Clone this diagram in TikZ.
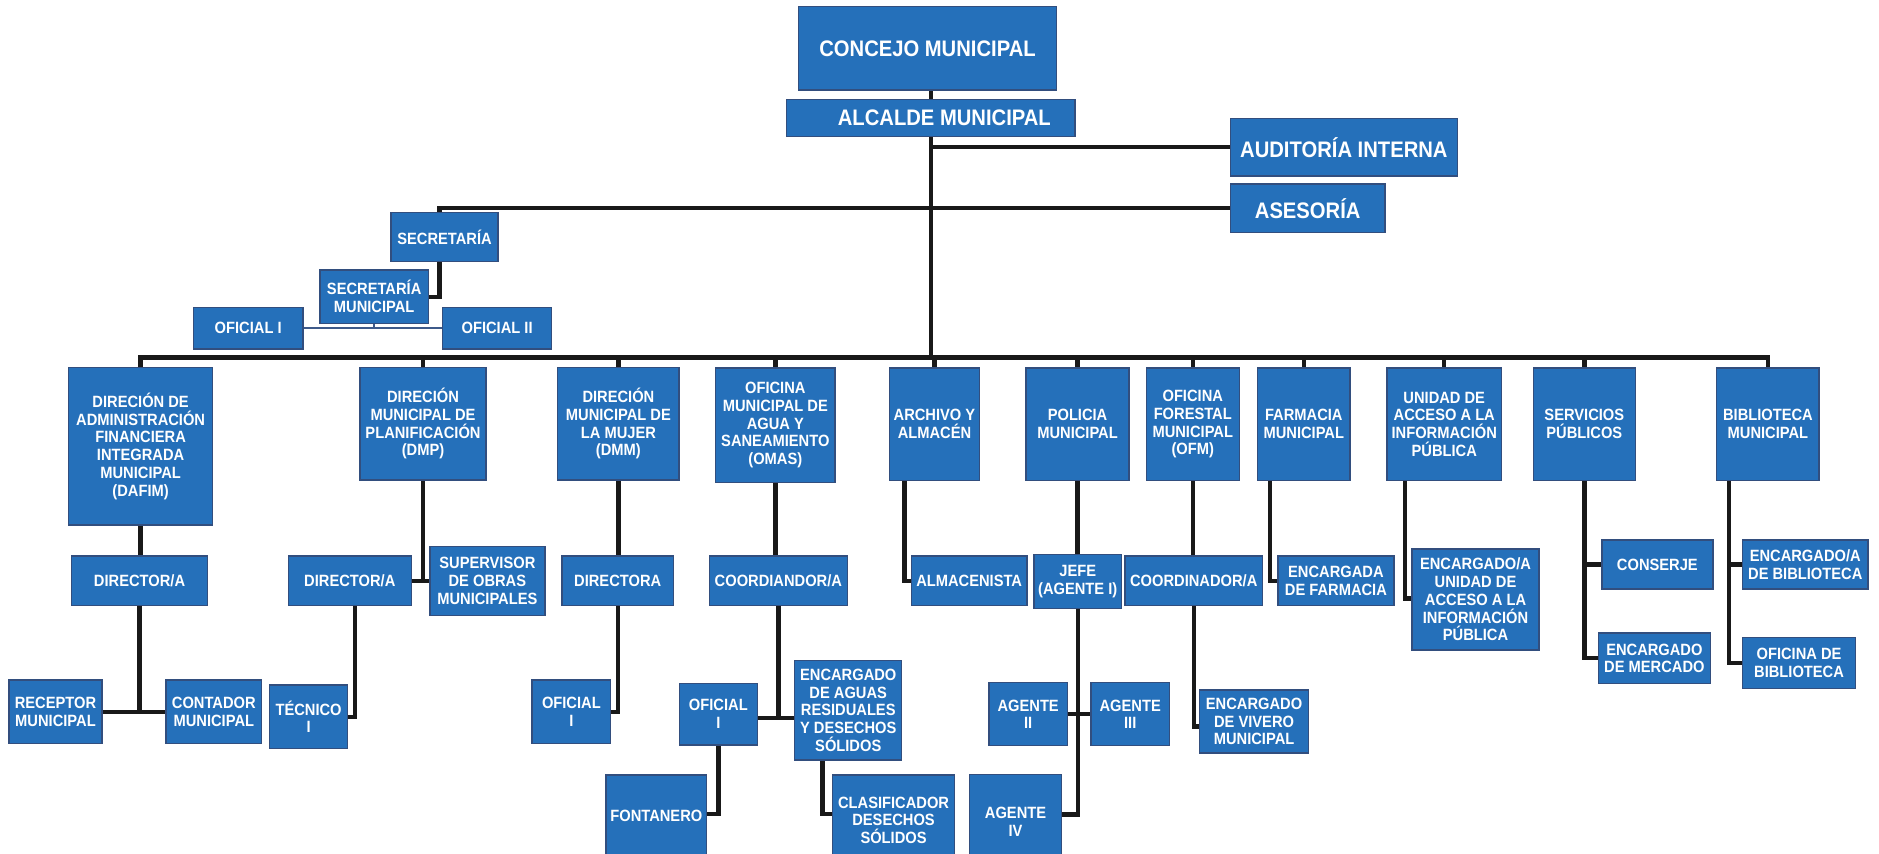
\documentclass[tikz,border=0pt]{standalone}
\usepackage{fontspec}
\newfontfamily\orgfont[FakeStretch=0.9]{Liberation Sans}
\usepackage{tikz}
\usetikzlibrary{calc}
\definecolor{azul}{RGB}{37,112,186}
\definecolor{borde}{RGB}{50,78,126}
\definecolor{enlace}{RGB}{62,90,138}
\pgfdeclarelayer{background}
\pgfsetlayers{background,main}

\tikzset{
  caja/.style={draw=borde, line width=0.8pt, fill=azul, text=white, align=center, inner sep=0pt,
    font=\orgfont\bfseries\fontsize{9.3}{10.1}\selectfont},
  cajagrande/.style={caja, font=\orgfont\bfseries\fontsize{12.8}{14}\selectfont},
  tam/.style 2 args={minimum width=#1*0.024cm, minimum height=#2*0.024cm},
  linea/.style={line width=2.5pt, draw=black!90},
}

\begin{document}
\begin{tikzpicture}[x=0.024cm, y=-0.024cm]

  \clip (0,0) rectangle (1568,712);

  %% Top of the chart
  \node[cajagrande, tam={215.6}{69.5}] (concejo) at (774,40.35) {CONCEJO MUNICIPAL};
  \node[cajagrande, tam={240.6}{31.2}] (alcalde) at (776.8,98.5) {\hspace*{0.54cm}ALCALDE MUNICIPAL};
  \node[cajagrande, tam={189.3}{48.1}] (auditoria) at (1121.45,122.85) {AUDITORÍA INTERNA};
  \node[cajagrande, tam={128.9}{40.3}] (asesoria) at (1091.25,173.75) {ASESORÍA};

  %% Secretaria
  \node[caja, tam={89.5}{40.9}] (secretaria) at (370.95,197.95) {SECRETARÍA};
  \node[caja, tam={90.5}{44.6}] (secmun) at (312.25,247.6) {SECRETARÍA\\MUNICIPAL};
  \node[caja, tam={91.2}{34.4}] (oficialA) at (207.1,274) {OFICIAL I};
  \node[caja, tam={91.1}{34.4}] (oficialB) at (414.85,274) {OFICIAL II};

  %% Direcciones y oficinas
  \node[caja, tam={120.3}{131.7}] (dafim) at (117.35,372.35) {DIRECIÓN DE\\ADMINISTRACIÓN\\FINANCIERA\\INTEGRADA\\MUNICIPAL\\(DAFIM)};
  \node[caja, tam={105.2}{94.1}] (dmp) at (353,353.55) {DIRECIÓN\\MUNICIPAL DE\\PLANIFICACIÓN\\(DMP)};
  \node[caja, tam={101.3}{94.1}] (dmm) at (516.05,353.55) {DIRECIÓN\\MUNICIPAL DE\\LA MUJER\\(DMM)};
  \node[caja, tam={99.8}{95.5}] (omas) at (647,354.75) {OFICINA\\MUNICIPAL DE\\AGUA Y\\SANEAMIENTO\\(OMAS)};
  \node[caja, tam={75.2}{94}] (archivo) at (779.8,354) {ARCHIVO Y\\ALMACÉN};
  \node[caja, tam={85.8}{94}] (policia) at (899.2,354) {POLICIA\\MUNICIPAL};
  \node[caja, tam={77.5}{94}] (ofm) at (995.35,354) {OFICINA\\FORESTAL\\MUNICIPAL\\(OFM)};
  \node[caja, tam={77.2}{94}] (farmacia) at (1088,354) {FARMACIA\\MUNICIPAL};
  \node[caja, tam={95.8}{94}] (unidad) at (1205.2,354) {UNIDAD DE\\ACCESO A LA\\INFORMACIÓN\\PÚBLICA};
  \node[caja, tam={85}{94}] (servicios) at (1322.1,354) {SERVICIOS\\PÚBLICOS};
  \node[caja, tam={85.4}{94}] (biblioteca) at (1475.3,354) {BIBLIOTECA\\MUNICIPAL};

  %% Puestos
  \node[caja, tam={113.1}{41.5}] (dirA) at (116.45,484.75) {DIRECTOR/A};
  \node[caja, tam={102.8}{41.5}] (dirB) at (291.9,484.75) {DIRECTOR/A};
  \node[caja, tam={96}{57.5}] (supervisor) at (406.7,484.75) {SUPERVISOR\\DE OBRAS\\MUNICIPALES};
  \node[caja, tam={93.1}{41.5}] (directora) at (515.45,484.75) {DIRECTORA};
  \node[caja, tam={115.1}{41.5}] (coordA) at (649.55,484.75) {COORDIANDOR/A};
  \node[caja, tam={96.5}{41.5}] (almacenista) at (808.75,484.75) {ALMACENISTA};
  \node[caja, tam={73.3}{45.1}] (jefe) at (899.35,485.15) {JEFE\\(AGENTE I)};
  \node[caja, tam={114.9}{41.5}] (coordB) at (996.15,484.75) {COORDINADOR/A};
  \node[caja, tam={96.6}{41.5}] (farmaciaE) at (1114.8,484.75) {ENCARGADA\\DE FARMACIA};
  \node[caja, tam={105.8}{84.3}] (encU) at (1231.3,500.35) {ENCARGADO/A\\UNIDAD DE\\ACCESO A LA\\INFORMACIÓN\\PÚBLICA};
  \node[caja, tam={92.5}{40.9}] (conserje) at (1383.05,471.15) {CONSERJE};
  \node[caja, tam={93.3}{42}] (mercado) at (1380.55,549.3) {ENCARGADO\\DE MERCADO};
  \node[caja, tam={104.5}{40.9}] (encB) at (1506.45,471.15) {ENCARGADO/A\\DE BIBLIOTECA};
  \node[caja, tam={94.1}{42.3}] (oficinaB) at (1501.25,553.35) {OFICINA DE\\BIBLIOTECA};

  \node[caja, tam={77.6}{52.9}] (receptor) at (46.3,593.95) {RECEPTOR\\MUNICIPAL};
  \node[caja, tam={79.7}{52.9}] (contador) at (178.45,593.95) {CONTADOR\\MUNICIPAL};
  \node[caja, tam={65.4}{52.9}] (tecnico) at (257.5,598.15) {TÉCNICO\\I};
  \node[caja, tam={65.4}{52.9}] (oficialC) at (476.8,593.95) {OFICIAL\\I};
  \node[caja, tam={65.1}{51.5}] (oficialD) at (599.45,595.95) {OFICIAL\\I};
  \node[caja, tam={89.3}{82.9}] (encAg) at (707.85,592.75) {ENCARGADO\\DE AGUAS\\RESIDUALES\\Y DESECHOS\\SÓLIDOS};
  \node[caja, tam={65.4}{52.6}] (agenteII) at (858,596) {AGENTE\\II};
  \node[caja, tam={65.3}{52.6}] (agenteIII) at (943.15,596) {AGENTE\\III};
  \node[caja, tam={91.2}{52.3}] (vivero) at (1046.5,602.05) {ENCARGADO\\DE VIVERO\\MUNICIPAL};
  \node[caja, tam={84}{68.2}] (fontanero) at (547.7,680.9) {FONTANERO};
  \node[caja, tam={101.5}{75.2}] (clasificador) at (745.65,684.4) {CLASIFICADOR\\DESECHOS\\SÓLIDOS};
  \node[caja, tam={77.1}{78.8}] (agenteIV) at (847.45,685.6) {AGENTE\\IV};

\begin{pgfonlayer}{background}
  %% Lineas de mando
  \coordinate (bus) at (0,298.2);
  \draw[linea] (alcalde.north |- concejo.south) -- (alcalde.north);
  \draw[linea] (alcalde.south) -- (alcalde.south |- bus);
  \draw[linea] (auditoria.west) -- (auditoria.west -| alcalde.south);
  \draw[linea] (secretaria.north) ++(-4.3,0) |- (asesoria.west);
  \draw[linea] (secretaria.south) ++(-4.3,0) |- (secmun.east);
  \draw[enlace, line width=1.2pt] (secmun.south) -- (secmun.south |- oficialA.east);
  \draw[enlace, line width=1.2pt] (oficialA.east) -- (oficialB.west);

  \draw[linea] (dafim.north) -- (dafim.north |- bus) -- (biblioteca.north |- bus) -- (biblioteca.north);
  \foreach \nom in {dmp,dmm,omas,archivo,policia,ofm,farmacia,unidad,servicios}{
    \draw[linea] (\nom.north) -- (\nom.north |- bus);
  }

  \draw[linea] (dafim.south) -- (dafim.south |- dirA.north);
  \draw[linea] (dirA.south) -- (dirA.south |- receptor.east);
  \draw[linea] (receptor.east) -- (contador.west);

  \draw[linea] (dmp.south) -- (dmp.south |- supervisor.west);
  \draw[linea] (dirB.east) -- (supervisor.west);
  \draw[linea] (dirB.south) ++(4.4,0) |- (tecnico.east);

  \draw[linea] (dmm.south) -- (dmm.south |- directora.north);
  \draw[linea] (directora.south) |- (oficialC.east);

  \draw[linea] (omas.south) -- (omas.south |- coordA.north);
  \draw[linea] (coordA.south) -- ([yshift=-0.08cm]coordA.south |- oficialD.east);
  \draw[linea] ([yshift=-0.08cm]oficialD.east) -- ([yshift=-0.08cm]oficialD.east -| encAg.west);
  \draw[linea] (oficialD.south) |- ([yshift=0.04cm]fontanero.east);
  \draw[linea] (encAg.south) ++(-21.5,0) |- ([yshift=0.12cm]clasificador.west);

  \draw[linea] (archivo.south) ++(-25,0) |- (almacenista.west);

  \draw[linea] (policia.south) -- (policia.south |- jefe.north);
  \draw[linea] (jefe.south) |- ([yshift=0.14cm]agenteIV.east);
  \draw[linea] (agenteII.east) -- (agenteIII.west);

  \draw[linea] (ofm.south) -- (ofm.south |- coordB.north);
  \draw[linea] (coordB.south) |- ([yshift=-0.1cm]vivero.west);

  \draw[linea] (farmacia.south) ++(-28.2,0) |- (farmaciaE.west);
  \draw[linea] (unidad.south) ++(-32.6,0) |- ([yshift=0.02cm]encU.west);

  \draw[linea] (servicios.south) |- (mercado.west);
  \draw[linea] (servicios.south |- conserje.west) -- (conserje.west);

  \draw[linea] (biblioteca.south) ++(-32.7,0) coordinate (bd) |- (oficinaB.west);
  \draw[linea] (bd |- encB.west) -- (encB.west);
\end{pgfonlayer}

\end{tikzpicture}
\end{document}
